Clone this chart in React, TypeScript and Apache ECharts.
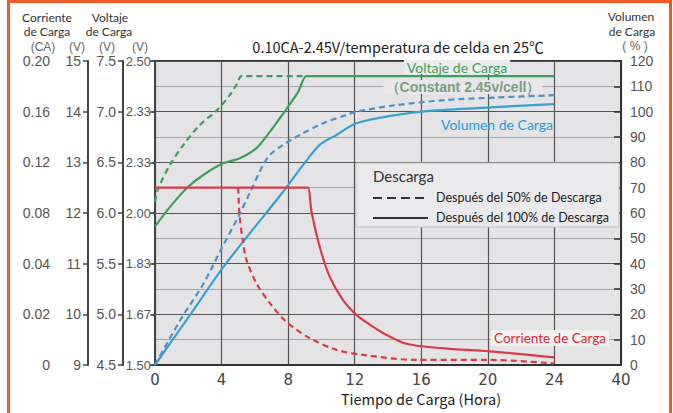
import React, { useEffect, useRef } from 'react';
import * as echarts from 'echarts';

// ---- tick labels ----
const xTickLabels = ['0', '4', '8', '12', '16', '20', '24', '40'];
const currentTicks = ['0', '0.02', '0.04', '0.08', '0.12', '0.16', '0.20'];
const cellVoltTicks = ['1.50', '1.67', '1.83', '2.00', '2.33', '2.33', '2.50'];

// ---- charge voltage (12V battery scale, V) ----
const voltDashHours = [0, 0.2, 0.9, 1.7, 2.7, 3.7, 4.5, 4.95, 5.2, 9.1];
const voltDashValues = [12.22, 12.49, 12.95, 13.34, 13.74, 14.02, 14.33, 14.56, 14.7, 14.7];
const voltSolidHours = [0, 0.9, 1.9, 2.9, 4.1, 5.1, 6.1, 6.9, 7.5, 8.0, 8.6, 9.1, 9.6, 24];
const voltSolidValues = [11.73, 12.12, 12.49, 12.75, 12.98, 13.08, 13.28, 13.6, 13.87, 14.1, 14.39, 14.7, 14.7, 14.7];

// ---- charge current (position on the CA scale, one step per tick) ----
const currSolidHours = [0, 9.0, 9.2, 9.4, 9.9, 10.5, 11.3, 12.1, 12.8, 13.7, 14.9, 16.0, 17.7, 20.1, 24];
const currSolidValues = [3.5, 3.5, 3.5, 3.03, 2.33, 1.74, 1.28, 0.99, 0.82, 0.63, 0.44, 0.37, 0.32, 0.27, 0.15];
const currDashHours = [5.0, 5.07, 5.27, 5.5, 6.1, 6.9, 7.9, 9.3, 10.9, 12.5, 15.7, 20.1, 24];
const currDashValues = [3.5, 2.99, 2.47, 2.07, 1.61, 1.22, 0.85, 0.53, 0.3, 0.2, 0.1, 0.1, 0.03];

// ---- charge volume (%) ----
const volSolidHours = [0, 2.1, 4.1, 5.7, 7.7, 8.9, 9.9, 10.9, 12.1, 14.5, 16.5, 20.1, 24];
const volSolidValues = [0, 19.7, 38.6, 52, 68.4, 79, 86.9, 90.8, 95.4, 98.7, 100.3, 101.7, 103];
const volDashHours = [0, 1.5, 2.9, 4.0, 5.0, 5.7, 6.5, 6.9, 7.7, 8.7, 10.1, 11.5, 12.1, 14.5, 17.5, 20.5, 24];
const volDashValues = [0, 17.5, 32, 46, 58.5, 68, 79, 82.9, 86.9, 90.8, 95.4, 98.7, 100, 102.6, 104.6, 105.6, 106.5];

const zip = (a: number[], b: number[]) => a.map((v, i) => [v, b[i]]);

const NARROW = "'Liberation Sans Narrow', 'Liberation Sans', Arial, sans-serif";
const CJK = "'Noto Sans CJK SC', 'Noto Sans', sans-serif";
const LATO = "Lato, 'Noto Sans', sans-serif";

const GREEN = '#3d9f5c';
const RED = '#d83c48';
const BLUE = '#3aa0d2';
const BLUE_D = '#4f92c8';

export default function App() {
  const ref = useRef<HTMLDivElement>(null);
  useEffect(() => {
    if (!ref.current) return;
    const chart = echarts.init(ref.current, null, { renderer: 'svg' });
    const leftAxisBase = {
      type: 'value' as const,
      position: 'left' as const,
      splitLine: { show: false },
      axisLine: { show: true, lineStyle: { color: '#444', width: 2 } },
      axisTick: { show: true, length: 5, lineStyle: { color: '#444', width: 1.5 } },
      axisLabel: { color: '#555', fontSize: 14, fontFamily: NARROW, margin: 7 },
    };
    const lineBase = (color: string, dashed: boolean) => ({
      type: 'line' as const,
      showSymbol: false,
      symbol: 'none',
      smooth: 0.3,
      lineStyle: { color, width: 2.2, type: dashed ? [6, 4] : 'solid' },
      z: 3,
    });
    const hdr = (text: string, x: number, y: number, font: string, fill = '#333', lineHeight = 14) => ({
      type: 'text', x, y, style: { text, font, fill, align: 'center', verticalAlign: 'middle', lineHeight },
    });
    chart.setOption({
      animation: false,
      backgroundColor: '#ffffff',
      grid: {
        left: 155, top: 61, right: 52, bottom: 48,
        show: true, backgroundColor: '#e4e4e6', borderColor: '#333', borderWidth: 2,
      },
      xAxis: {
        type: 'value', min: 0, max: 28, interval: 4,
        axisLine: { show: true, lineStyle: { color: '#333', width: 2 } },
        axisTick: { show: false },
        axisLabel: {
          color: '#444', fontSize: 15, fontFamily: "'DejaVu Sans', sans-serif", margin: 7, lineHeight: 15,
          formatter: (v: number) => xTickLabels[Math.round(v / 4)] ?? '',
        },
        splitLine: { show: true, lineStyle: { color: '#555', width: 1.2 } },
      },
      yAxis: [
        { ...leftAxisBase, offset: 98, min: 0, max: 6, interval: 1,
          axisLabel: { ...leftAxisBase.axisLabel, formatter: (v: number) => currentTicks[Math.round(v)] ?? '' } },
        { ...leftAxisBase, offset: 67, min: 9, max: 15, interval: 1 },
        { ...leftAxisBase, offset: 32, min: 4.5, max: 7.5, interval: 0.5,
          axisLabel: { ...leftAxisBase.axisLabel, formatter: (v: number) => v.toFixed(1) } },
        { ...leftAxisBase, offset: 0, min: 0, max: 6, interval: 1,
          axisTick: { show: true, length: 3, lineStyle: { color: '#444', width: 1.5 } },
          axisLabel: { ...leftAxisBase.axisLabel, fontSize: 13, margin: 4, formatter: (v: number) => cellVoltTicks[Math.round(v)] ?? '' } },
        {
          type: 'value', position: 'right', min: 0, max: 120, interval: 10,
          axisLine: { show: true, lineStyle: { color: '#333', width: 2 } },
          axisTick: { show: true, inside: true, length: 7, lineStyle: { color: '#333', width: 1.5 } },
          axisLabel: { color: '#555', fontSize: 14, fontFamily: NARROW, margin: 9 },
          splitLine: { show: true, lineStyle: { color: ['#555', '#a4a4a6'], width: 1.2 } },
        },
      ],
      series: [
        { ...lineBase(GREEN, true), yAxisIndex: 1, data: zip(voltDashHours, voltDashValues) },
        { ...lineBase(GREEN, false), yAxisIndex: 1, data: zip(voltSolidHours, voltSolidValues) },
        { ...lineBase(BLUE_D, true), yAxisIndex: 4, data: zip(volDashHours, volDashValues) },
        { ...lineBase(BLUE, false), yAxisIndex: 4, data: zip(volSolidHours, volSolidValues) },
        { ...lineBase(RED, true), yAxisIndex: 0, data: zip(currDashHours, currDashValues) },
        { ...lineBase(RED, false), yAxisIndex: 0, data: zip(currSolidHours, currSolidValues) },
      ],
      graphic: [
        { type: 'rect', z: 100, shape: { x: 8.5, y: 1.5, width: 662, height: 440 },
          style: { fill: 'none', stroke: '#f05a28', lineWidth: 3 } },
        // header texts
        hdr('Corriente', 47, 17, `12px ${LATO}`),
        hdr('de Carga', 47, 31.5, `12px ${LATO}`),
        hdr('Voltaje', 110, 17, `12px ${LATO}`),
        hdr('de Carga', 109, 31.5, `12px ${LATO}`),
        hdr('(CA)', 43, 46.5, `12px ${NARROW}`, '#666'),
        hdr('(V)', 77, 46.5, `12px ${NARROW}`, '#666'),
        hdr('(V)', 107, 46.5, `12px ${NARROW}`, '#666'),
        hdr('(V)', 140, 46.5, `12px ${NARROW}`, '#666'),
        hdr('Volumen', 631, 16.5, `12px ${LATO}`),
        hdr('de Carga', 632, 31, `12px ${LATO}`),
        hdr('( % )', 635, 46, `12px ${NARROW}`, '#666'),
        // title
        hdr('0.10CA-2.45V/temperatura de celda en 25℃', 398, 46, `14.5px ${CJK}`, '#222', 16),
        // x axis name
        hdr('Tiempo de Carga (Hora)', 421, 398, `14.5px ${CJK}`, '#222', 16),
        // in-plot labels
        { type: 'text', z: 1, x: 457, y: 67, style: { text: 'Voltaje de Carga', font: `14px ${LATO}`, fill: GREEN, align: 'center', verticalAlign: 'middle', backgroundColor: '#ececee', padding: [0, 3] } },
        { type: 'text', z: 1, x: 463, y: 87, style: { text: '（Constant 2.45v/cell）', font: `bold 14px 'Liberation Sans', sans-serif`, fill: '#7a9e86', align: 'center', verticalAlign: 'middle', backgroundColor: '#e8e8ea', padding: [0, 2] } },
        { type: 'text', z: 1, x: 497, y: 124, style: { text: 'Volumen de Carga', font: `14px ${LATO}`, fill: '#2a9ad8', align: 'center', verticalAlign: 'middle' } },
        { type: 'text', z: 1, x: 550, y: 338, style: { text: 'Corriente de Carga', font: `13.5px ${LATO}`, fill: '#e3262d', align: 'center', verticalAlign: 'middle', backgroundColor: '#f2f2f3', padding: [1, 3] } },
        // discharge legend box
        { type: 'rect', z: 1, shape: { x: 356, y: 163, width: 263, height: 64 }, style: { fill: '#eaeaec', stroke: '#c4c4c6', lineWidth: 1 } },
        { type: 'text', z: 2, x: 373, y: 176, style: { text: 'Descarga', font: `15px ${LATO}`, fill: '#333', align: 'left', verticalAlign: 'middle' } },
        { type: 'line', z: 2, shape: { x1: 373, y1: 198, x2: 428, y2: 198 }, style: { stroke: '#333', lineWidth: 2, lineDash: [9, 5] } },
        { type: 'line', z: 2, shape: { x1: 373, y1: 218, x2: 428, y2: 218 }, style: { stroke: '#333', lineWidth: 2 } },
        { type: 'text', z: 2, x: 436, y: 197, style: { text: 'Después del 50% de Descarga', font: `12.5px ${LATO}`, fill: '#222', align: 'left', verticalAlign: 'middle' } },
        { type: 'text', z: 2, x: 436, y: 217, style: { text: 'Después del 100% de Descarga', font: `12.5px ${LATO}`, fill: '#222', align: 'left', verticalAlign: 'middle' } },
      ],
    });
    return () => chart.dispose();
  }, []);
  return (
    <div
      ref={ref}
      style={{ position: 'absolute', left: 0, top: 0, width: 673, height: 413, background: '#fff' }}
    />
  );
}
